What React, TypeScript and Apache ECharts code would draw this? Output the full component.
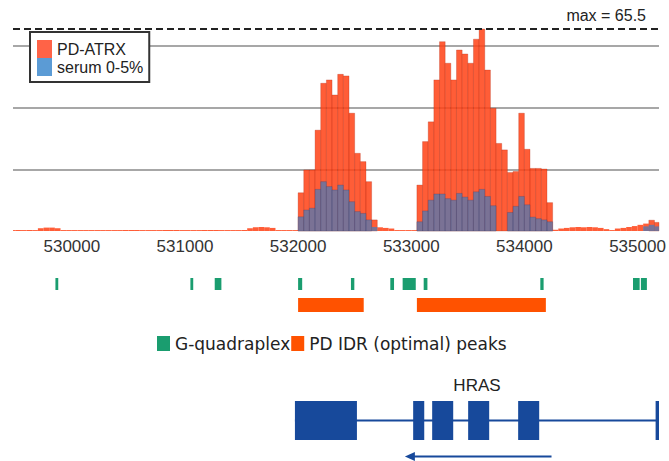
import React, { useEffect, useRef } from "react";
import * as echarts from "echarts";

// ---- data ----
const xMin = 529480;
const xMax = 535190;
const binStart = 529450; // first 50 bp bin
const binSize = 50;
const xTicks = [530000, 531000, 532000, 533000, 534000, 535000];
const yMax = 65.5;
const yGrid = 20;

// PD-ATRX coverage per 50 bp bin (529450 ... 535150)
const pdAtrx = [
  0.3, 0.3, 0.3, 0.3, 0.3,
  0.9, 1.1, 1.1, 0.9,
  0.3, 0.3, 0.3, 0.3, 0.3, 0.3, 0.3, 0.3, 0.3, 0.3, 0.3,
  0.3, 0.3, 0.3, 0.3, 0.3, 0.3, 0.3, 0.3, 0.3, 0.3, 0.3,
  0.3, 0.3, 0.3, 0.3, 0.3, 0.3, 0.3, 0.3, 0.3, 0.3, 0.3,
  0.9, 1.2, 1.3, 1.2, 1.0,
  0.3, 0.3, 0.3, 0.3,
  12.4, 19.8, 19.8, 32.7, 47.9, 49.0, 44.1, 50.8, 50.3, 38.2, 25.2, 22.5, 16.0, 3.6,
  1.2, 1.0, 0.8,
  0.3, 0.3, 0.3, 0.3,
  14.9, 29.0, 35.4, 49.0, 61.4, 54.4, 49.0, 58.7, 57.4, 54.4, 62.2, 65.5,
  52.2, 39.8, 28.4, 26.3, 19.0, 19.3, 38.2, 26.5, 20.3, 20.3, 20.1, 9.2,
  0.4, 0.8, 1.0, 1.2, 1.3, 1.2, 1.3, 1.2, 1.0, 0.6, 0.3, 0.8, 1.0, 1.3, 1.6, 2.0, 2.4, 3.5, 2.8,
];

// serum 0-5% coverage per 50 bp bin
const serum = [
  0, 0, 0, 0, 0, 0, 0, 0, 0, 0, 0, 0, 0, 0, 0, 0, 0,
  0, 0, 0, 0, 0, 0, 0, 0, 0, 0, 0, 0, 0, 0, 0, 0, 0,
  0, 0, 0, 0, 0, 0, 0, 0, 0, 0, 0, 0, 0, 0, 0, 0, 0,
  4.6, 6.8, 7.4, 13.5, 16.0, 14.4, 13.3, 14.9, 13.3, 9.5, 6.3, 5.7, 3.6, 1.3,
  0, 0, 0, 0, 0, 0, 0,
  3.0, 6.5, 10.0, 12.0, 12.0, 10.5, 10.0, 12.2, 11.0, 10.0, 12.7, 13.5,
  11.2, 8.2, 0, 0, 6.0, 8.0, 11.2, 8.5, 4.5, 4.0, 3.6, 3.0,
  0, 0, 0, 0, 0, 0, 0, 0, 0, 0, 0, 0, 0, 0, 0, 0,
  1.5, 2.0, 1.5,
];

const gQuadraplex = [
  [529855, 529880],
  [531048, 531073],
  [531263, 531322],
  [532000, 532036],
  [532467, 532497],
  [532815, 532848],
  [532924, 533040],
  [533110, 533143],
  [534141, 534170],
  [534960, 535019],
  [535030, 535083],
];

const idrPeaks = [
  [532000, 532580],
  [533050, 534190],
];

const geneName = "HRAS";
const hrasSpan = [531972, 535190];
const hrasExons = [
  [531972, 532520],
  [533017, 533115],
  [533185, 533371],
  [533503, 533689],
  [533945, 534131],
  [535160, 535190],
];
const hrasArrow = [532944, 534240];

// ---- styles ----
const FONT = "'Liberation Sans', Arial, sans-serif";
const ORANGE_BAR = "rgba(255,66,22,0.86)";
const BLUE_BAR = "rgba(65,124,189,0.7)";
const GREEN = "#1a9d6f";
const IDR_ORANGE = "#ff5200";
const GENE_BLUE = "#17499b";

const gridLeft = 13;
const gridWidth = 646;

function clipTo(rect: any, cs: any) {
  return echarts.graphic.clipRectByRect(rect, {
    x: cs.x,
    y: cs.y,
    width: cs.width,
    height: cs.height,
  });
}

function barRender(fill: string, stroke: string) {
  return (params: any, api: any) => {
    const v = api.value(2);
    if (!v) return null;
    const p0 = api.coord([api.value(0), v]);
    const p1 = api.coord([api.value(1), 0]);
    const r = clipTo(
      { x: p0[0], y: p0[1], width: p1[0] - p0[0], height: p1[1] - p0[1] },
      params.coordSys
    );
    if (!r) return null;
    const tall = r.height > 8;
    return {
      type: "rect",
      shape: r,
      style: { fill, stroke: tall ? stroke : null, lineWidth: tall ? 0.6 : 0 },
    };
  };
}

function spanRender(fill: string, minW: number) {
  return (params: any, api: any) => {
    const cs = params.coordSys;
    const a = api.coord([api.value(0), 0]);
    const b = api.coord([api.value(1), 0]);
    let x = a[0];
    let w = b[0] - a[0];
    if (w < minW) {
      x = x + w / 2 - minW / 2;
      w = minW;
    }
    const r = clipTo({ x, y: cs.y, width: w, height: cs.height }, cs);
    if (!r) return null;
    return { type: "rect", shape: r, style: { fill } };
  };
}

function binData(values: number[]) {
  return values.map((v, i) => [
    binStart + i * binSize,
    binStart + (i + 1) * binSize,
    v,
  ]);
}

export default function App() {
  const ref = useRef<HTMLDivElement>(null);

  useEffect(() => {
    if (!ref.current) return;
    const chart = echarts.init(ref.current, null, { renderer: "svg" });

    const grids = [
      { left: gridLeft, width: gridWidth, top: 29, height: 202 }, // coverage
      { left: gridLeft, width: gridWidth, top: 278, height: 12 }, // G-quadraplex
      { left: gridLeft, width: gridWidth, top: 298, height: 14 }, // IDR peaks
      { left: gridLeft, width: gridWidth, top: 401, height: 39 }, // gene model
      { left: gridLeft, width: gridWidth, top: 452, height: 11 }, // strand arrow
    ];

    const xAxes: any[] = grids.map((_, i) => ({
      type: "value",
      gridIndex: i,
      min: xMin,
      max: xMax,
      show: i === 0,
      axisLine: { show: false },
      axisTick: { show: false },
      splitLine: { show: false },
      axisLabel:
        i === 0
          ? {
              customValues: xTicks,
              formatter: (v: number) => String(v),
              fontFamily: FONT,
              fontSize: 17,
              color: "#333",
              margin: 7,
            }
          : { show: false },
    }));

    const yAxes: any[] = grids.map((_, i) =>
      i === 0
        ? {
            type: "value",
            gridIndex: 0,
            min: 0,
            max: yMax,
            interval: yGrid,
            axisLabel: { show: false },
            axisLine: { show: false },
            axisTick: { show: false },
            splitLine: {
              show: true,
              showMinLine: false,
              showMaxLine: false,
              lineStyle: { color: "#8a8a8a", width: 1.5 },
            },
          }
        : { type: "value", gridIndex: i, min: 0, max: 1, show: false }
    );

    const option: any = {
      animation: false,
      grid: grids,
      xAxis: xAxes,
      yAxis: yAxes,
      legend: [
        {
          data: [
            { name: "PD-ATRX", icon: "rect", itemStyle: { color: "#ff6347", borderWidth: 0 } },
            { name: "serum 0-5%", icon: "rect", itemStyle: { color: "#5b9bd5", borderWidth: 0 } },
          ],
          orient: "vertical",
          left: 30,
          top: 32,
          padding: [8, 6, 6, 7],
          itemWidth: 15,
          itemHeight: 18,
          itemGap: 0,
          borderColor: "#333",
          borderWidth: 2,
          backgroundColor: "#fff",
          selectedMode: false,
          z: 10,
          textStyle: { fontFamily: FONT, fontSize: 16, lineHeight: 18, color: "#222" },
        },
        {
          data: [
            { name: "G-quadraplex", icon: "rect", itemStyle: { color: GREEN, borderWidth: 0 } },
            { name: "PD IDR (optimal) peaks", icon: "rect", itemStyle: { color: IDR_ORANGE, borderWidth: 0 } },
          ],
          orient: "horizontal",
          left: 157,
          top: 335,
          padding: 0,
          itemWidth: 13,
          itemHeight: 15,
          itemGap: 1,
          selectedMode: false,
          textStyle: { fontFamily: "'DejaVu Sans', sans-serif", fontSize: 17, color: "#222" },
        },
      ],
      graphic: [
        {
          type: "text",
          x: 646,
          y: 15,
          style: {
            text: `max = ${yMax}`,
            align: "right",
            verticalAlign: "middle",
            textAlign: "right",
            textVerticalAlign: "middle",
            fontFamily: FONT,
            fontSize: 16,
            fill: "#222",
          },
        },
      ],
      series: [
        {
          type: "custom",
          name: "PD-ATRX",
          xAxisIndex: 0,
          yAxisIndex: 0,
          itemStyle: { color: ORANGE_BAR },
          encode: { x: [0, 1], y: 2 },
          data: binData(pdAtrx),
          renderItem: barRender(ORANGE_BAR, "rgba(170,35,10,0.45)"),
          silent: true,
        },
        {
          type: "custom",
          name: "serum 0-5%",
          xAxisIndex: 0,
          yAxisIndex: 0,
          itemStyle: { color: BLUE_BAR },
          encode: { x: [0, 1], y: 2 },
          data: binData(serum),
          renderItem: barRender(BLUE_BAR, "rgba(60,60,110,0.45)"),
          silent: true,
        },
        {
          type: "line",
          name: "max",
          xAxisIndex: 0,
          yAxisIndex: 0,
          data: [
            [xMin, yMax],
            [xMax, yMax],
          ],
          symbol: "none",
          silent: true,
          z: 5,
          lineStyle: { color: "#222", width: 1.8, type: [7, 4] },
        },
        {
          type: "custom",
          name: "G-quadraplex",
          xAxisIndex: 1,
          yAxisIndex: 1,
          itemStyle: { color: GREEN },
          encode: { x: [0, 1] },
          data: gQuadraplex,
          renderItem: spanRender(GREEN, 2.5),
          silent: true,
        },
        {
          type: "custom",
          name: "PD IDR (optimal) peaks",
          xAxisIndex: 2,
          yAxisIndex: 2,
          itemStyle: { color: IDR_ORANGE },
          encode: { x: [0, 1] },
          data: idrPeaks,
          renderItem: spanRender(IDR_ORANGE, 1),
          silent: true,
        },
        {
          type: "custom",
          name: "gene span",
          xAxisIndex: 3,
          yAxisIndex: 3,
          encode: { x: [0, 1] },
          data: [hrasSpan],
          silent: true,
          renderItem: (params: any, api: any) => {
            const cs = params.coordSys;
            const a = api.coord([api.value(0), 0]);
            const b = api.coord([api.value(1), 0]);
            const midY = cs.y + cs.height / 2;
            return {
              type: "group",
              children: [
                {
                  type: "line",
                  shape: { x1: a[0], y1: midY, x2: b[0], y2: midY },
                  style: { stroke: GENE_BLUE, lineWidth: 2 },
                },
                {
                  type: "text",
                  x: (a[0] + b[0]) / 2,
                  y: cs.y - 16,
                  style: {
                    text: geneName,
                    align: "center",
                    verticalAlign: "middle",
                    fontFamily: FONT,
                    fontSize: 17,
                    fill: "#222",
                  },
                },
              ],
            };
          },
        },
        {
          type: "custom",
          name: "gene exons",
          xAxisIndex: 3,
          yAxisIndex: 3,
          encode: { x: [0, 1] },
          data: hrasExons,
          renderItem: spanRender(GENE_BLUE, 3),
          silent: true,
        },
        {
          type: "custom",
          name: "strand",
          xAxisIndex: 4,
          yAxisIndex: 4,
          encode: { x: [0, 1] },
          data: [hrasArrow],
          silent: true,
          renderItem: (params: any, api: any) => {
            const cs = params.coordSys;
            const a = api.coord([api.value(0), 0]);
            const b = api.coord([api.value(1), 0]);
            const y = cs.y + cs.height / 2;
            return {
              type: "group",
              children: [
                {
                  type: "line",
                  shape: { x1: a[0] + 6, y1: y, x2: b[0], y2: y },
                  style: { stroke: GENE_BLUE, lineWidth: 2 },
                },
                {
                  type: "polygon",
                  shape: {
                    points: [
                      [a[0], y],
                      [a[0] + 10, y - 4.5],
                      [a[0] + 10, y + 4.5],
                    ],
                  },
                  style: { fill: GENE_BLUE },
                },
              ],
            };
          },
        },
      ],
    };

    chart.setOption(option);
    return () => chart.dispose();
  }, []);

  return (
    <div
      ref={ref}
      style={{ position: "absolute", left: 0, top: 0, width: 669, height: 461, background: "#fff" }}
    />
  );
}
